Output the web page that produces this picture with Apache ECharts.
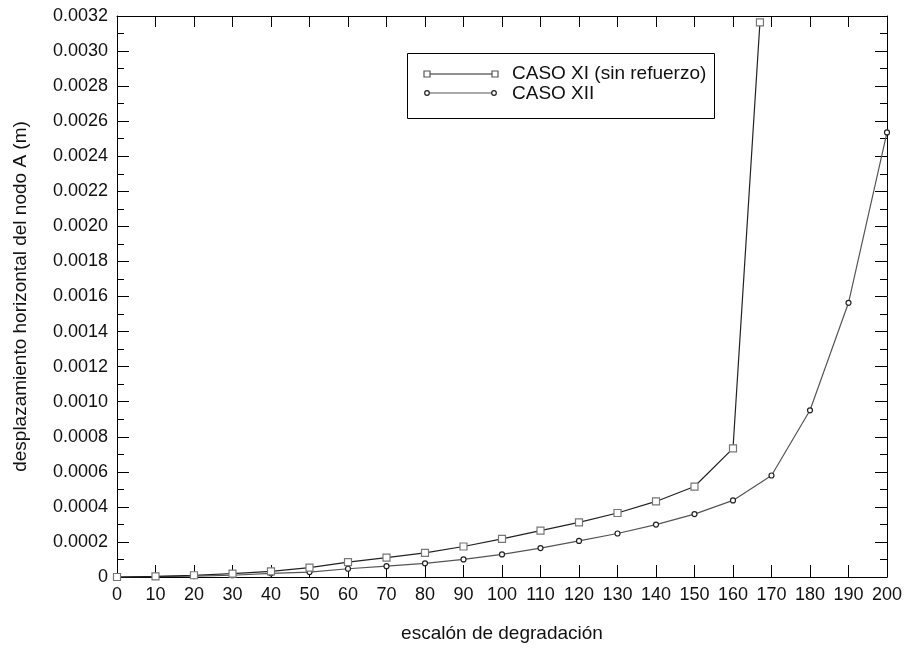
<!DOCTYPE html>
<html>
<head>
<meta charset="utf-8">
<script src="https://cdn.jsdelivr.net/npm/echarts@6/dist/echarts.min.js"></script>
<style>html,body{margin:0;padding:0;background:#fff}#c{width:906px;height:648px}</style>
</head>
<body>
<div id="c"></div>
<script>
var xTitle = 'escalón de degradación';
var yTitle = 'desplazamiento horizontal del nodo A (m)';
var nameXI = 'CASO XI (sin refuerzo)';
var nameXII = 'CASO XII';
var xXI = [0, 10, 20, 30, 40, 50, 60, 70, 80, 90, 100, 110, 120, 130, 140, 150, 160, 167];
var yXI = [0, 0.000004, 0.00001, 0.000019, 0.000032, 0.000053, 0.000085, 0.00011, 0.000138, 0.000174, 0.000217, 0.000265, 0.000312, 0.000365, 0.000431, 0.000516, 0.000734, 0.003164];
var xXII = [0, 10, 20, 30, 40, 50, 60, 70, 80, 90, 100, 110, 120, 130, 140, 150, 160, 170, 180, 190, 200];
var yXII = [0, 0.000002, 0.000005, 0.00001, 0.000021, 0.000028, 0.000047, 0.000062, 0.000078, 0.0001, 0.000129, 0.000165, 0.000206, 0.000248, 0.000299, 0.000359, 0.000437, 0.000579, 0.000951, 0.001564, 0.002536];

function pairs(xs, ys) { return xs.map(function (x, i) { return [x, ys[i]]; }); }

var font = 'Liberation Sans, Arial, sans-serif';
var chart = echarts.init(document.getElementById('c'));
var G = {left: 117, top: 16, right: 19, bottom: 68};
var lineSt = {show: true, onZero: false, lineStyle: {color: '#000', width: 1}};
function xAx(pos, extra) {
  return Object.assign({
    type: 'value', position: pos, min: 0, max: 200, interval: 10,
    axisLine: lineSt, splitLine: {show: false},
    axisTick: {inside: true, length: pos === 'top' ? 11 : 12, lineStyle: {color: '#000'}},
    axisLabel: {show: false}
  }, extra || {});
}
function yAx(pos, extra) {
  return Object.assign({
    type: 'value', position: pos, min: 0, max: 0.0032, interval: 0.0002,
    axisLine: lineSt, splitLine: {show: false},
    axisTick: {inside: true, length: 12, lineStyle: {color: '#000'}},
    minorTick: {show: true, splitNumber: 2, length: 7, lineStyle: {color: '#000'}},
    axisLabel: {show: false}
  }, extra || {});
}
chart.setOption({
  backgroundColor: '#fff',
  animation: false,
  grid: {left: G.left, top: G.top, right: G.right, bottom: G.bottom, containLabel: false},
  xAxis: [
    xAx('bottom', {
      name: xTitle, nameLocation: 'middle', nameGap: 47,
      nameTextStyle: {fontFamily: font, fontSize: 19, color: '#111'},
      axisLabel: {margin: 9, fontFamily: font, fontSize: 18, color: '#111'}
    }),
    xAx('top')
  ],
  yAxis: [
    yAx('left', {
      name: yTitle, nameLocation: 'middle', nameGap: 87,
      nameTextStyle: {fontFamily: font, fontSize: 19, color: '#111'},
      axisLabel: {show: true, margin: 9, fontFamily: font, fontSize: 18, color: '#111',
        formatter: function (v) { return v === 0 ? '0' : v.toFixed(4); }}
    }),
    yAx('right')
  ],
  series: [{
    name: nameXI, type: 'line', xAxisIndex: 1, yAxisIndex: 1,
    data: pairs(xXI, yXI),
    symbol: 'rect', symbolSize: 7, showAllSymbol: true,
    lineStyle: {color: '#222', width: 1.2},
    itemStyle: {color: '#fff', borderColor: '#777', borderWidth: 1.2},
    z: 3
  }, {
    name: nameXII, type: 'line', xAxisIndex: 0, yAxisIndex: 0,
    data: pairs(xXII, yXII),
    symbol: 'circle', symbolSize: 5, showAllSymbol: true,
    lineStyle: {color: '#555', width: 1.2},
    itemStyle: {color: '#fff', borderColor: '#222', borderWidth: 1.2},
    z: 2
  }],
  graphic: [
    {type: 'rect', left: 407, top: 53, shape: {width: 307, height: 65}, style: {fill: '#fff', stroke: '#000', lineWidth: 1}, z: 10},
    {type: 'line', shape: {x1: 427, y1: 74, x2: 495, y2: 74}, style: {stroke: '#222', lineWidth: 1.2}, z: 11},
    {type: 'rect', shape: {x: 424, y: 71, width: 6, height: 6}, style: {fill: '#fff', stroke: '#555', lineWidth: 1.2}, z: 12},
    {type: 'rect', shape: {x: 492, y: 71, width: 6, height: 6}, style: {fill: '#fff', stroke: '#555', lineWidth: 1.2}, z: 12},
    {type: 'text', x: 512, y: 74, style: {text: nameXI, font: '19px ' + font, fill: '#111', textVerticalAlign: 'middle'}, z: 12},
    {type: 'line', shape: {x1: 427, y1: 93, x2: 494, y2: 93}, style: {stroke: '#555', lineWidth: 1.2}, z: 11},
    {type: 'circle', shape: {cx: 427, cy: 93, r: 2.3}, style: {fill: '#fff', stroke: '#222', lineWidth: 1.2}, z: 12},
    {type: 'circle', shape: {cx: 494, cy: 93, r: 2.3}, style: {fill: '#fff', stroke: '#222', lineWidth: 1.2}, z: 12},
    {type: 'text', x: 512, y: 94, style: {text: nameXII, font: '19px ' + font, fill: '#111', textVerticalAlign: 'middle'}, z: 12}
  ]
});
</script>
</body>
</html>
